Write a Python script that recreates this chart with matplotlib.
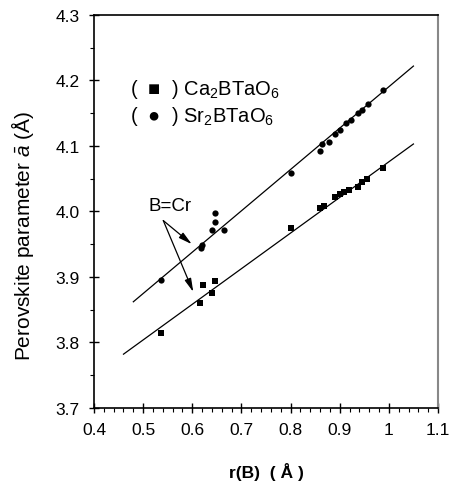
#!/usr/bin/env python3
import numpy as np
import matplotlib
matplotlib.use("Agg")
import matplotlib.pyplot as plt
from matplotlib.ticker import MultipleLocator

plt.rcParams['font.family'] = ['Liberation Sans', 'DejaVu Sans']
plt.rcParams['mathtext.fontset'] = 'custom'
plt.rcParams['mathtext.rm'] = 'Liberation Sans'
plt.rcParams['mathtext.it'] = 'Liberation Sans:italic'
plt.rcParams['mathtext.bf'] = 'Liberation Sans:bold'

# Sr2BTaO6 (circles)
sr_r = [0.536, 0.617, 0.620, 0.641, 0.646, 0.646, 0.665, 0.800, 0.860, 0.864,
        0.879, 0.891, 0.900, 0.912, 0.922, 0.938, 0.946, 0.958, 0.989]
sr_a = [3.895, 3.944, 3.948, 3.971, 3.984, 3.998, 3.971, 4.059, 4.093, 4.103,
        4.106, 4.119, 4.124, 4.135, 4.140, 4.150, 4.155, 4.164, 4.186]
# Ca2BTaO6 (squares)
ca_r = [0.536, 0.616, 0.621, 0.640, 0.646, 0.800, 0.860, 0.868, 0.891, 0.900,
        0.908, 0.918, 0.938, 0.945, 0.955, 0.988]
ca_a = [3.814, 3.860, 3.887, 3.875, 3.893, 3.975, 4.005, 4.009, 4.022, 4.027,
        4.030, 4.033, 4.038, 4.045, 4.050, 4.066]
# fitted lines (end points)
sr_fit_r = [0.480, 1.050]
sr_fit_a = [3.862, 4.222]
ca_fit_r = [0.460, 1.050]
ca_fit_a = [3.782, 4.103]
# B=Cr annotation
cr_label = (0.555, 4.009)
cr_start = (0.541, 3.986)
cr_targets = [(0.599, 3.950), (0.602, 3.877)]

fig = plt.figure(figsize=(4.52, 4.85), dpi=100)
ax = fig.add_axes([0.208, 0.157, 0.761, 0.81])

ax.plot(sr_fit_r, sr_fit_a, color='black', lw=0.9)
ax.plot(ca_fit_r, ca_fit_a, color='black', lw=0.9)
ax.plot(sr_r, sr_a, 'o', color='black', ms=4.5, mew=0)
ax.plot(ca_r, ca_a, 's', color='black', ms=4.5, mew=0)

ax.text(0.473, 4.187, "(  \u25a0  ) Ca$_2$BTaO$_6$", fontsize=14.5, va='center', ha='left')
ax.text(0.473, 4.146, "(  \u25cf  ) Sr$_2$BTaO$_6$", fontsize=14.5, va='center', ha='left')

ax.text(cr_label[0], cr_label[1], "B=Cr", fontsize=13.5, ha='center', va='center')
for tx, ty in cr_targets:
    ax.annotate("", xy=(tx, ty), xytext=cr_start,
                arrowprops=dict(arrowstyle='-|>,head_length=0.8,head_width=0.2',
                                color='black', lw=0.9, shrinkA=0, shrinkB=0))

ax.set_xlim(0.4, 1.1)
ax.set_ylim(3.7, 4.3)
ax.xaxis.set_minor_locator(MultipleLocator(0.02))
ax.yaxis.set_minor_locator(MultipleLocator(0.05))
ax.set_xticks(np.arange(0.4, 1.11, 0.1))
ax.set_xticklabels(['0.4', '0.5', '0.6', '0.7', '0.8', '0.9', '1', '1.1'])
ax.set_yticks(np.arange(3.7, 4.31, 0.1))
ax.set_yticklabels(['3.7', '3.8', '3.9', '4.0', '4.1', '4.2', '4.3'])

ax.tick_params(which='major', direction='inout', length=7, width=1.0,
               labelsize=12.5, pad=7, top=False, right=False)
ax.tick_params(which='minor', direction='out', length=3, width=0.8,
               top=False, right=False)

for s in ['left', 'bottom', 'top']:
    ax.spines[s].set_linewidth(1.2)
    ax.spines[s].set_color('black')
ax.spines['right'].set_linewidth(1.5)
ax.spines['right'].set_color('#888888')

ax.set_xlabel("r(B)  ( \u00c5 )", fontsize=12.5, fontweight='bold', va='center')
ax.xaxis.set_label_coords(0.5, -0.162)
ax.set_ylabel("Perovskite parameter $\\bar{a}$ (\u00c5)", fontsize=15)
ax.yaxis.set_label_coords(-0.17, 0.44)

fig.savefig("out.png", dpi=100)
